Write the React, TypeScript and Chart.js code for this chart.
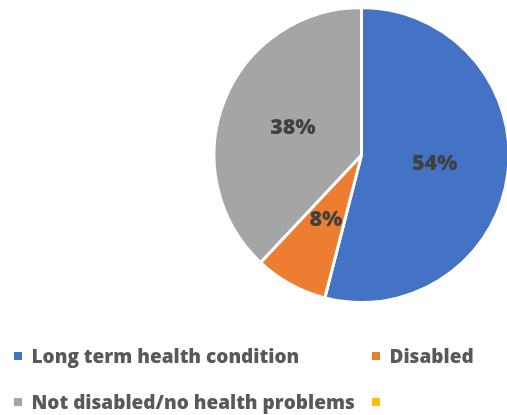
import React, { useEffect, useRef } from "react";
import { Chart, registerables } from "chart.js";

Chart.register(...registerables);

const categories = ["Long term health condition", "Disabled", "Not disabled/no health problems", ""];
const values = [54, 8, 38, 0];
const colors = ["#4472C4", "#ED7D31", "#A5A5A5", "#FFC000"];

const sliceLabels = {
  id: "sliceLabels",
  afterDatasetsDraw(chart: any) {
    const ctx = chart.ctx;
    const meta = chart.getDatasetMeta(0);
    const data = chart.data.datasets[0].data as number[];
    const total = data.reduce((a, b) => a + b, 0);
    ctx.save();
    ctx.font = "800 21.5px 'Open Sans'";
    ctx.fillStyle = "#404040";
    ctx.textAlign = "center";
    ctx.textBaseline = "middle";
    meta.data.forEach((arc: any, i: number) => {
      const v = data[i];
      if (!v) return;
      const p = arc.tooltipPosition();
      ctx.fillText(Math.round((v / total) * 100) + "%", p.x, p.y);
    });
    ctx.restore();
  },
};

export default function App() {
  const ref = useRef<HTMLCanvasElement>(null);
  useEffect(() => {
    const chart = new Chart(ref.current!, {
      type: "pie",
      data: {
        labels: categories,
        datasets: [
          {
            data: values,
            backgroundColor: colors,
            borderColor: "#ffffff",
            borderWidth: 3,
          },
        ],
      },
      options: {
        animation: false,
        responsive: true,
        maintainAspectRatio: false,
        layout: { padding: { left: 212.5, right: 89.5, top: 6, bottom: 111 } },
        plugins: { legend: { display: false }, tooltip: { enabled: false } },
      },
      plugins: [sliceLabels],
    });
    return () => chart.destroy();
  }, []);

  return (
    <div style={{ position: "absolute", left: 0, top: 0, width: 507, height: 415, overflow: "hidden", background: "#fff" }}>
      <div style={{ position: "absolute", left: 0, top: 0, width: 600, height: 415 }}>
        <canvas ref={ref} />
      </div>
      <div
        style={{
          position: "absolute",
          left: 14,
          top: 341,
          display: "grid",
          gridTemplateColumns: "358px auto",
          gridAutoRows: "46px",
          fontFamily: "'Open Sans'",
          fontWeight: 800,
          fontSize: 19,
          color: "#595959",
        }}
      >
        {categories.map((c, i) => (
          <div key={i} style={{ display: "flex", alignItems: "center", height: 30, whiteSpace: "nowrap" }}>
            <span style={{ display: "inline-block", width: 8, height: 8, background: colors[i], marginRight: 9.5 }} />
            <span style={{ lineHeight: "30px" }}>{c}</span>
          </div>
        ))}
      </div>
    </div>
  );
}
